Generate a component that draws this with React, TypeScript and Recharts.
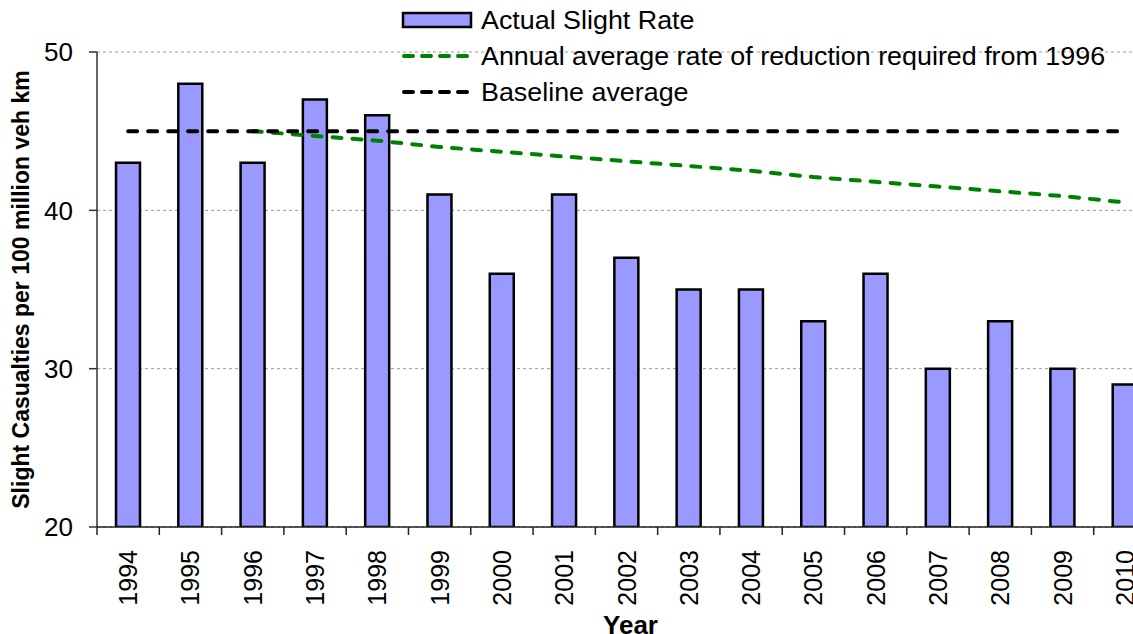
import { Bar, Line, XAxis, YAxis, CartesianGrid, Legend, ComposedChart } from 'recharts';

const years = ['1994', '1995', '1996', '1997', '1998', '1999', '2000', '2001', '2002', '2003', '2004', '2005', '2006', '2007', '2008', '2009', '2010'];
const actualRate = [43, 48, 43, 47, 46, 41, 36, 41, 37, 35, 35, 33, 36, 30, 33, 30, 29];
const requiredRate = [null, null, 45, 44.7, 44.4, 44.0, 43.7, 43.4, 43.1, 42.8, 42.5, 42.1, 41.8, 41.5, 41.2, 40.9, 40.5];
const baselineRate = [45, 45, 45, 45, 45, 45, 45, 45, 45, 45, 45, 45, 45, 45, 45, 45, 45];
const yTicks = [20, 30, 40, 50];

const data = years.map((year, i) => ({
  year,
  actual: actualRate[i],
  required: requiredRate[i],
  baseline: baselineRate[i],
}));

const FONT = '"Liberation Sans", Arial, sans-serif';
const CHART_W = 1156;
const Y_AXIS_W = 97;
const HALF_BAND = (CHART_W - Y_AXIS_W) / years.length / 2;

function YearTick(props: any) {
  const { x, y, payload } = props;
  return (
    <g>
      <line x1={x - HALF_BAND} y1={y} x2={x - HALF_BAND} y2={y + 8} stroke="#222" strokeWidth={1.5} />
      <text
        x={x}
        y={y + 23}
        transform={`rotate(-90, ${x}, ${y + 23})`}
        textAnchor="end"
        dominantBaseline="central"
        fontSize={25}
        fontFamily={FONT}
        fill="#000"
      >
        {payload.value}
      </text>
    </g>
  );
}

function YTitle(props: any) {
  const vb = props.viewBox || { y: 52, height: 475 };
  const cx = 21;
  const cy = vb.y + vb.height / 2;
  return (
    <text
      x={cx}
      y={cy}
      transform={`rotate(-90, ${cx}, ${cy})`}
      textAnchor="middle"
      dominantBaseline="central"
      fontSize={23}
      fontWeight="bold"
      fontFamily={FONT}
      fill="#000"
    >
      Slight Casualties per 100 million veh km
    </text>
  );
}

function LegendBox() {
  const rows = [
    { label: 'Actual Slight Rate', kind: 'bar', color: '#9999ff' },
    { label: 'Annual average rate of reduction required from 1996', kind: 'line', color: '#008000' },
    { label: 'Baseline average', kind: 'line', color: '#000' },
  ];
  return (
    <svg width={740} height={110} style={{ display: 'block', overflow: 'visible' }}>
      {rows.map((r, i) => {
        const cy = 20 + i * 36;
        return (
          <g key={r.label}>
            {r.kind === 'bar' ? (
              <rect x={4} y={cy - 7} width={68} height={14} fill={r.color} stroke="#000" strokeWidth={2.5} />
            ) : (
              <line x1={5} y1={cy} x2={72} y2={cy} stroke={r.color} strokeWidth={4} strokeDasharray="9 9" strokeLinecap="round" />
            )}
            <text
              transform={`translate(82, ${cy}) scale(1.075, 1)`}
              x={0}
              y={0}
              dominantBaseline="central"
              fontSize={25}
              fontFamily={FONT}
              fill="#000"
            >
              {r.label}
            </text>
          </g>
        );
      })}
    </svg>
  );
}

export default function App() {
  return (
    <div style={{ position: 'absolute', left: 0, top: 0, width: 1133, height: 634, overflow: 'hidden', background: '#fff' }}>
      <ComposedChart
        width={CHART_W}
        height={634}
        data={data}
        margin={{ top: 52, right: 0, left: 0, bottom: 0 }}
        barCategoryGap={0}
      >
        <CartesianGrid vertical={false} stroke="#999" strokeDasharray="3 3" />
        <XAxis
          dataKey="year"
          height={107}
          tickLine={false}
          tickSize={0}
          tickMargin={0}
          interval={0}
          axisLine={{ stroke: '#222', strokeWidth: 1.5 }}
          tick={<YearTick />}
          label={{ value: 'Year', position: 'insideBottom', offset: 0, dx: 4, style: { fontSize: 26, fontWeight: 'bold', fontFamily: FONT, fill: '#000' } }}
        />
        <YAxis
          width={Y_AXIS_W}
          domain={[20, 50]}
          ticks={yTicks}
          allowDataOverflow
          tickSize={8}
          tickMargin={16}
          axisLine={{ stroke: '#333', strokeWidth: 1.5 }}
          tickLine={{ stroke: '#333', strokeWidth: 1.5 }}
          tick={{ fontSize: 26, fontFamily: FONT, fill: '#000' }}
          label={{ content: (p: any) => <YTitle {...p} /> }}
        />
        <Legend
          layout="vertical"
          align="center"
          verticalAlign="middle"
          wrapperStyle={{ position: 'absolute', top: 0, left: 399, width: 740, height: 110 }}
          content={() => <LegendBox />}
        />
        <Bar dataKey="actual" barSize={24} fill="#9999ff" stroke="#000" strokeWidth={2.5} isAnimationActive={false} />
        <Line
          dataKey="required"
          type="linear"
          stroke="#008000"
          strokeWidth={4}
          strokeDasharray="9 11"
          strokeLinecap="round"
          dot={false}
          activeDot={false}
          connectNulls={false}
          isAnimationActive={false}
        />
        <Line
          dataKey="baseline"
          type="linear"
          stroke="#000"
          strokeWidth={4}
          strokeDasharray="9 11"
          strokeLinecap="round"
          dot={false}
          activeDot={false}
          isAnimationActive={false}
        />
      </ComposedChart>
    </div>
  );
}
